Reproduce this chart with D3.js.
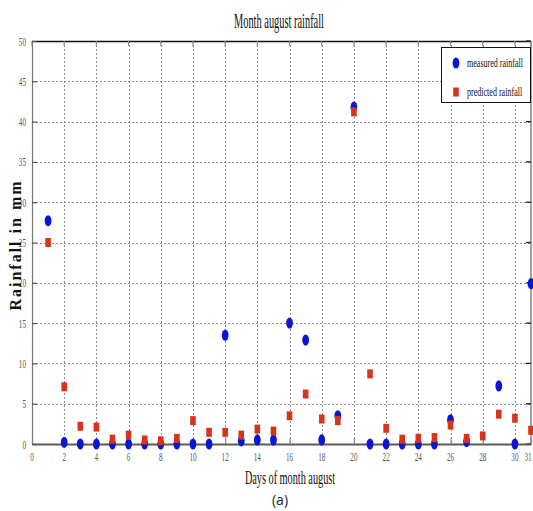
<!DOCTYPE html>
<html>
<head>
<meta charset="utf-8">
<script src="https://cdn.jsdelivr.net/npm/d3@7"></script>
<style>
  body { margin: 0; background: #fff; }
  svg { display: block; }
</style>
</head>
<body>
<svg id="chart" width="533" height="511"></svg>
<script>
"use strict";

// Days of august, and the two series (mm). null = no marker drawn.
const days = d3.range(1, 32);
const measured = [27.7, 0.2, 0, 0, 0, 0, 0, 0, 0, 0, 0, 13.5, 0.4, 0.5, 0.5, 15.0,
  12.9, 0.5, 3.5, 41.8, 0, 0, 0, 0, 0, 3.0, 0.3, null, 7.2, 0, 19.9];
const predicted = [25.0, 7.1, 2.2, 2.1, 0.6, 1.1, 0.5, 0.4, 0.7, 2.9, 1.45, 1.45, 1.1,
  1.85, 1.6, 3.5, 6.2, 3.1, 2.9, 41.2, 8.7, 1.95, 0.6, 0.7, 0.8, 2.35, 0.7, 1.0, 3.7, 3.2, 1.7];
const xTicks = [0, 2, 4, 6, 8, 10, 12, 14, 16, 18, 20, 22, 24, 26, 28, 30, 31];
const yTicks = [0, 5, 10, 15, 20, 25, 30, 35, 40, 45, 50];
const legendLabels = ["measured rainfall", "predicted rainfall"];

const BLUE = "#0b16d4", RED = "#d8341c";

const svg = d3.select("#chart"),
    margin = {left: 32, right: 2, top: 41, bottom: 67},
    width = +svg.attr("width") - margin.left - margin.right,
    height = +svg.attr("height") - margin.top - margin.bottom;

const x = d3.scaleLinear().domain([0, 31]).range([0, width]),
    y = d3.scaleLinear().domain([0, 50]).range([height, 0]);

const g = svg.append("g")
    .attr("transform", "translate(" + margin.left + "," + margin.top + ")");

// Condensed text: draw at (px,py) and squeeze horizontally by k.
const condensed = (parent, px, py, k, str, anchor) => parent.append("text")
    .attr("transform", "translate(" + px + "," + py + ") scale(" + k + ",1)")
    .attr("text-anchor", anchor || "start")
    .style("font-family", "'Liberation Serif', serif")
    .text(str);

// Dotted grid (snapped to pixels so the dots stay visible).
const snap = (v) => Math.round(v) + 0.5;
const grid = g.append("g").attr("class", "grid");
grid.selectAll("line.v")
    .data(xTicks.filter((d) => d > 0 && d < 31))
    .enter().append("line")
    .attr("class", "v")
    .attr("x1", (d) => snap(x(d))).attr("x2", (d) => snap(x(d)))
    .attr("y1", 0).attr("y2", height);
grid.selectAll("line.h")
    .data(yTicks.filter((d) => d > 0 && d < 50))
    .enter().append("line")
    .attr("class", "h")
    .attr("x1", 0).attr("x2", width)
    .attr("y1", (d) => snap(y(d))).attr("y2", (d) => snap(y(d)));
grid.selectAll("line")
    .attr("stroke", "#8c8c8c").attr("stroke-width", 1)
    .attr("stroke-dasharray", "2,2");

// Box: top and right dark, left and bottom gray.
g.append("line").attr("x1", 0).attr("x2", width).attr("y1", 0.5).attr("y2", 0.5)
    .attr("stroke", "#111").attr("stroke-width", 1.3);
g.append("line").attr("x1", width).attr("x2", width).attr("y1", 0).attr("y2", height)
    .attr("stroke", "#444").attr("stroke-width", 1);
g.append("g").selectAll("line").data(yTicks).enter().append("line")
    .attr("x1", width - 5).attr("x2", width)
    .attr("y1", (d) => y(d)).attr("y2", (d) => y(d))
    .attr("stroke", "#222").attr("stroke-width", 1.3);
g.append("g").selectAll("line").data(xTicks).enter().append("line")
    .attr("x1", (d) => x(d)).attr("x2", (d) => x(d))
    .attr("y1", 0).attr("y2", 5)
    .attr("stroke", "#888").attr("stroke-width", 1.2);

// Axes.
const xAxis = g.append("g")
    .attr("transform", "translate(0," + height + ")")
    .call(d3.axisBottom(x).tickValues(xTicks).tickSizeInner(-6).tickSizeOuter(0).tickFormat(""));
const yAxis = g.append("g")
    .call(d3.axisLeft(y).tickValues(yTicks).tickSizeInner(-5).tickSizeOuter(0).tickFormat(""));

xAxis.select(".domain").attr("stroke", "#5a5a5a").attr("stroke-width", 2.2);
yAxis.select(".domain").attr("stroke", "#777").attr("stroke-width", 1.2);
xAxis.selectAll(".tick line").attr("stroke", "#888").attr("stroke-width", 1.2);
yAxis.selectAll(".tick line").attr("stroke", "#555").attr("stroke-width", 1.2);

// Tick labels, condensed gray serif.
xTicks.forEach((d) => {
  condensed(xAxis, Math.min(x(d), width - 3), 17, 0.55, String(d), "middle")
      .style("font-size", "13px").attr("fill", "#555");
});
yTicks.forEach((d) => {
  condensed(yAxis, -6, y(d) + 4.5, 0.55, String(d), "end")
      .style("font-size", "13px").attr("fill", "#555");
});

// Measured (blue ellipses), then predicted (red squares) on top.
const pts = (vals) => days.map((d, i) => ({day: d, v: vals[i]})).filter((p) => p.v !== null);

g.append("g").selectAll("ellipse")
    .data(pts(measured))
    .enter().append("ellipse")
    .attr("cx", (d) => x(d.day)).attr("cy", (d) => y(d.v))
    .attr("rx", 3.4).attr("ry", 5.6)
    .attr("fill", BLUE);

g.append("g").selectAll("rect")
    .data(pts(predicted))
    .enter().append("rect")
    .attr("x", (d) => x(d.day) - 2.8).attr("y", (d) => y(d.v) - 4.5)
    .attr("width", 5.6).attr("height", 9)
    .attr("fill", RED);

// Legend.
const legend = svg.append("g").attr("transform", "translate(441,47)");
legend.append("rect")
    .attr("x", 0.5).attr("y", 0.5).attr("width", 89).attr("height", 55)
    .attr("fill", "#fff").attr("stroke", "#111").attr("stroke-width", 1);
legend.append("ellipse")
    .attr("cx", 15).attr("cy", 16).attr("rx", 3.4).attr("ry", 5.6).attr("fill", BLUE);
legend.append("rect")
    .attr("x", 12.2).attr("y", 40.5).attr("width", 5.6).attr("height", 9).attr("fill", RED);
legendLabels.forEach((d, i) => {
  condensed(legend, 26, 20 + i * 29, 0.62, d)
      .style("font-size", "13px").attr("fill", "#111");
});

// Titles.
condensed(svg, 279, 28, 0.52, "Month august rainfall", "middle")
    .style("font-size", "20px").attr("fill", "#111");

svg.append("text")
    .attr("transform", "translate(21,245) rotate(-90)")
    .attr("text-anchor", "middle")
    .style("font-family", "'Liberation Serif', serif")
    .style("font-size", "16px")
    .style("font-weight", "bold")
    .style("letter-spacing", "2px")
    .attr("fill", "#111")
    .text("Rainfall in mm");

condensed(svg, 290, 484, 0.54, "Days of month august", "middle")
    .style("font-size", "19px").attr("fill", "#111");

svg.append("text")
    .attr("x", 280).attr("y", 505)
    .attr("text-anchor", "middle")
    .style("font-family", "'Open Sans', sans-serif")
    .style("font-size", "14px")
    .attr("fill", "#222")
    .text("(a)");
</script>
</body>
</html>
